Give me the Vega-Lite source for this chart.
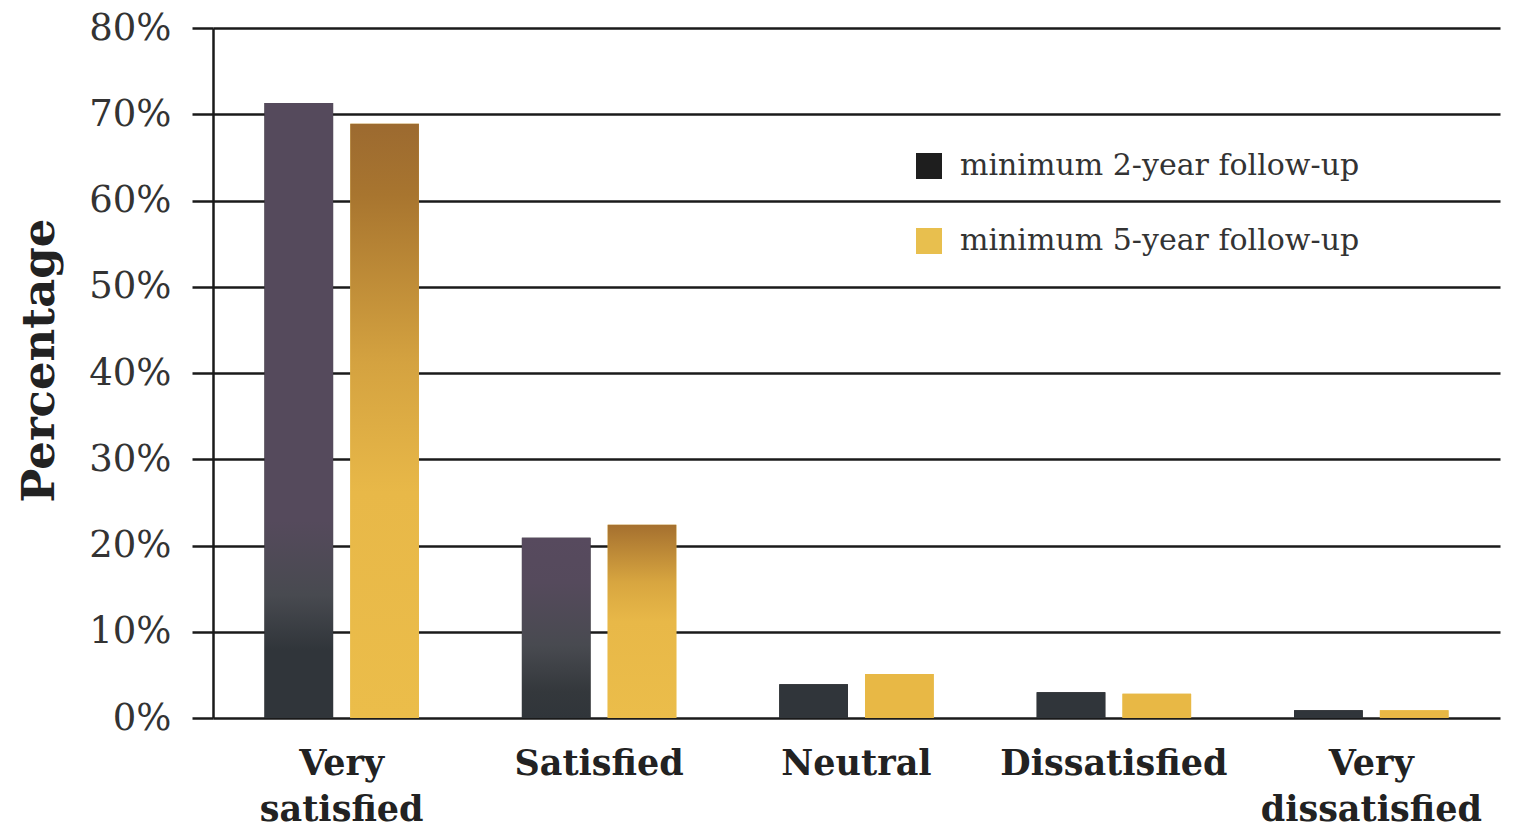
{
  "$schema": "https://vega.github.io/schema/vega-lite/v6.json",
  "autosize": {"type": "none"},
  "width": 1287,
  "height": 690,
  "padding": {"left": 213, "top": 28, "right": 21, "bottom": 114},
  "background": "white",
  "config": {
    "view": {"stroke": null},
    "font": "DejaVu Serif"
  },
  "data": {
    "values": [
      {"category": "Very satisfied", "series": "minimum 2-year follow-up", "value": 71.3},
      {"category": "Very satisfied", "series": "minimum 5-year follow-up", "value": 68.9},
      {"category": "Satisfied", "series": "minimum 2-year follow-up", "value": 20.9},
      {"category": "Satisfied", "series": "minimum 5-year follow-up", "value": 22.4},
      {"category": "Neutral", "series": "minimum 2-year follow-up", "value": 3.9},
      {"category": "Neutral", "series": "minimum 5-year follow-up", "value": 5.1},
      {"category": "Dissatisfied", "series": "minimum 2-year follow-up", "value": 3.0},
      {"category": "Dissatisfied", "series": "minimum 5-year follow-up", "value": 2.8},
      {"category": "Very dissatisfied", "series": "minimum 2-year follow-up", "value": 0.9},
      {"category": "Very dissatisfied", "series": "minimum 5-year follow-up", "value": 0.9}
    ]
  },
  "encoding": {
    "x": {
      "field": "category",
      "type": "nominal",
      "sort": ["Very satisfied", "Satisfied", "Neutral", "Dissatisfied", "Very dissatisfied"],
      "scale": {"paddingInner": 0.4, "paddingOuter": 0.2},
      "axis": {
        "title": null,
        "labelAngle": 0,
        "domain": false,
        "ticks": false,
        "labelFont": "DejaVu Serif",
        "labelFontWeight": "bold",
        "labelFontSize": 35,
        "labelColor": "#222222",
        "labelPadding": 28,
        "labelBaseline": "top",
        "labelLineHeight": 46,
        "labelLimit": 0,
        "labelExpr": "indexof(datum.value, 'Very') == 0 ? split(datum.value, ' ') : datum.value"
      }
    },
    "xOffset": {
      "field": "series",
      "type": "nominal",
      "scale": {"paddingInner": 0.2}
    },
    "y": {
      "field": "value",
      "type": "quantitative",
      "scale": {"domain": [0, 80], "nice": false},
      "axis": {
        "title": "Percentage",
        "titleFont": "DejaVu Serif",
        "titleFontWeight": "bold",
        "titleFontSize": 45,
        "titleColor": "#222222",
        "titleAngle": -90,
        "titleAlign": "center",
        "titleBaseline": "middle",
        "titleX": -174,
        "titleY": 332,
        "titleLimit": 0,
        "values": [0, 10, 20, 30, 40, 50, 60, 70, 80],
        "labelExpr": "datum.value + '%'",
        "labelFont": "DejaVu Serif",
        "labelFontSize": 37,
        "labelColor": "#333333",
        "labelPadding": 21,
        "tickSize": 21,
        "tickColor": "#1a1a1a",
        "tickWidth": 2.5,
        "domainColor": "#1a1a1a",
        "domainWidth": 2.5,
        "grid": true,
        "gridColor": "#1a1a1a",
        "gridWidth": 2.5,
        "gridOpacity": 1
      }
    }
  },
  "layer": [
    {
      "mark": {"type": "bar"},
      "encoding": {
        "color": {
          "field": "series",
          "type": "nominal",
          "scale": {
            "domain": ["minimum 2-year follow-up", "minimum 5-year follow-up"],
            "range": ["#1e1e1e", "#e8bf4e"]
          },
          "legend": {
            "title": null,
            "orient": "none",
            "legendX": 701,
            "legendY": 123,
            "padding": 0,
            "symbolType": "square",
            "symbolSize": 676,
            "symbolStrokeWidth": 0,
            "labelFont": "DejaVu Serif",
            "labelFontSize": 30,
            "labelColor": "#333333",
            "labelOffset": 16,
            "labelLimit": 0,
            "rowPadding": 45
          }
        }
      }
    },
    {
      "mark": {"type": "bar"},
      "encoding": {
        "fill": {
          "condition": [
            {
              "test": "datum.series == 'minimum 2-year follow-up' && datum.value > 50",
              "value": {"gradient": "linear", "x1": 0, "y1": 0, "x2": 0, "y2": 1,
                "stops": [
                  {"offset": 0, "color": "#554a5c"},
                  {"offset": 0.68, "color": "#554a5c"},
                  {"offset": 0.8, "color": "#484a50"},
                  {"offset": 0.89, "color": "#30353a"},
                  {"offset": 1, "color": "#30353a"}
                ]}
            },
            {
              "test": "datum.series == 'minimum 2-year follow-up' && datum.value > 10",
              "value": {"gradient": "linear", "x1": 0, "y1": 0, "x2": 0, "y2": 1,
                "stops": [
                  {"offset": 0, "color": "#574a5e"},
                  {"offset": 0.25, "color": "#554a5c"},
                  {"offset": 0.6, "color": "#484a50"},
                  {"offset": 0.85, "color": "#34383c"},
                  {"offset": 1, "color": "#30353a"}
                ]}
            },
            {
              "test": "datum.series == 'minimum 2-year follow-up'",
              "value": "#30353a"
            },
            {
              "test": "datum.value > 50",
              "value": {"gradient": "linear", "x1": 0, "y1": 0, "x2": 0, "y2": 1,
                "stops": [
                  {"offset": 0, "color": "#9c6a30"},
                  {"offset": 0.12, "color": "#a8752f"},
                  {"offset": 0.4, "color": "#d4a240"},
                  {"offset": 0.62, "color": "#e8b848"},
                  {"offset": 1, "color": "#ebbd4a"}
                ]}
            },
            {
              "test": "datum.value > 10",
              "value": {"gradient": "linear", "x1": 0, "y1": 0, "x2": 0, "y2": 1,
                "stops": [
                  {"offset": 0, "color": "#a5702f"},
                  {"offset": 0.3, "color": "#d8a640"},
                  {"offset": 0.5, "color": "#e8b848"},
                  {"offset": 1, "color": "#ebbd4a"}
                ]}
            }
          ],
          "value": "#e8b845"
        }
      }
    }
  ]
}
